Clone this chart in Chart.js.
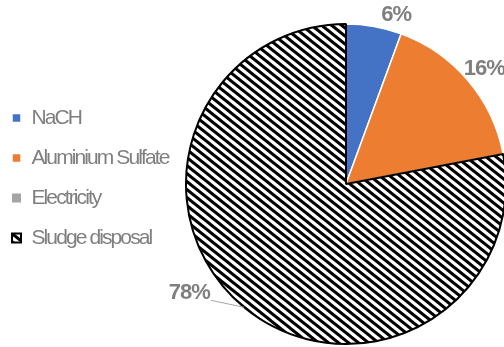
<!DOCTYPE html>
<html>
<head>
<meta charset="utf-8">
<script src="https://cdn.jsdelivr.net/npm/chart.js@4.4.1/dist/chart.umd.min.js"></script>
<style>
  html, body { margin: 0; padding: 0; background: #fff; }
  #wrap { width: 504px; height: 347px; overflow: hidden; position: relative; }
</style>
</head>
<body>
<div id="wrap"><canvas id="chart" width="510" height="347"></canvas></div>
<script>
// data (percent of total)
var categories = ['NaCH', 'Aluminium Sulfate', 'Electricity', 'Sludge disposal'];
var shares = [5.6, 16.4, 0, 78.0];

// styling
var sliceColors = ['#4472c4', '#ed7d31', '#a5a5a5', null];
var textGrey = '#7f7f7f';
// per-slice label nudges, like the hand-dragged labels of the original (deg, px)
var labelTurn = [6.5, 0.5, 0, 15.5];
var labelGap = [16, 20, 0, 31];

// black diagonal hatch for the sludge slice
function hatch() {
    var w = 10, h = 8;
    var c = document.createElement('canvas');
    c.width = w; c.height = h;
    var g = c.getContext('2d');
    g.fillStyle = '#fff';
    g.fillRect(0, 0, w, h);
    g.strokeStyle = '#000';
    g.lineWidth = 3;
    [-w, 0, w].forEach(function (k) {
        g.beginPath();
        g.moveTo(k - w, -h);
        g.lineTo(k + 2 * w, 2 * h);
        g.stroke();
    });
    return g.createPattern(c, 'repeat');
}

var ctx = document.getElementById('chart').getContext('2d');
var pattern = hatch();
sliceColors[3] = pattern;

// legend column is a fixed width so the pie sits where the original has it
var legendSpot = {
    id: 'legendSpot',
    beforeInit: function (chart) {
        var legend = chart.legend, fit = legend.fit;
        legend.fit = function () {
            fit.call(this);
            this.width = 182;
        };
    },
    afterLayout: function (chart) {
        var l = chart.legend;
        l.left -= 7; l.right -= 7;
        l.top -= 6; l.bottom -= 6;
    },
    beforeDraw: function (chart) {
        chart.ctx.letterSpacing = '-1.9px';
    }
};

// percent labels outside the slices, 78% gets a leader line
var sliceLabels = {
    id: 'sliceLabels',
    afterDatasetsDraw: function (chart) {
        var c = chart.ctx;
        var total = shares.reduce(function (a, b) { return a + b; }, 0);
        var arcs = chart.getDatasetMeta(0).data;
        c.save();
        c.letterSpacing = '-1px';
        c.font = 'bold 22px "Liberation Sans", Arial, sans-serif';
        c.fillStyle = textGrey;
        c.textAlign = 'center';
        c.textBaseline = 'middle';
        arcs.forEach(function (arc, i) {
            if (shares[i] / total < 0.01) return;
            var p = arc.getProps(['x', 'y', 'startAngle', 'endAngle', 'outerRadius']);
            var mid = (p.startAngle + p.endAngle) / 2;
            var a = mid + labelTurn[i] * Math.PI / 180;
            var r = p.outerRadius + labelGap[i];
            var lx = p.x + Math.cos(a) * r;
            var ly = p.y + Math.sin(a) * r;
            var txt = Math.round(shares[i] / total * 100) + '%';
            c.fillText(txt, lx, ly);
            if (labelTurn[i] > 10) {
                var tw = c.measureText(txt).width;
                c.beginPath();
                c.strokeStyle = '#a6a6a6';
                c.lineWidth = 1;
                c.moveTo(lx + tw / 2 + 1, ly + 7);
                c.lineTo(p.x + Math.cos(mid) * p.outerRadius, p.y + Math.sin(mid) * p.outerRadius);
                c.stroke();
            }
        });
        c.restore();
    }
};

new Chart(ctx, {
    type: 'pie',
    data: {
        labels: categories,
        datasets: [{
            data: shares,
            backgroundColor: sliceColors,
            borderColor: ['#fff', '#fff', '#fff', '#000'],
            borderWidth: [1.5, 1.5, 0, 2]
        }]
    },
    options: {
        responsive: false,
        animation: false,
        layout: { padding: { top: 23, bottom: 2, left: 0, right: 0 } },
        plugins: {
            tooltip: { enabled: false },
            legend: {
                position: 'left',
                labels: {
                    boxWidth: 9,
                    boxHeight: 9,
                    padding: 19,
                    color: textGrey,
                    font: { size: 21, family: '"Liberation Sans", Arial, sans-serif' }
                }
            }
        }
    },
    plugins: [legendSpot, sliceLabels]
});
</script>
</body>
</html>
